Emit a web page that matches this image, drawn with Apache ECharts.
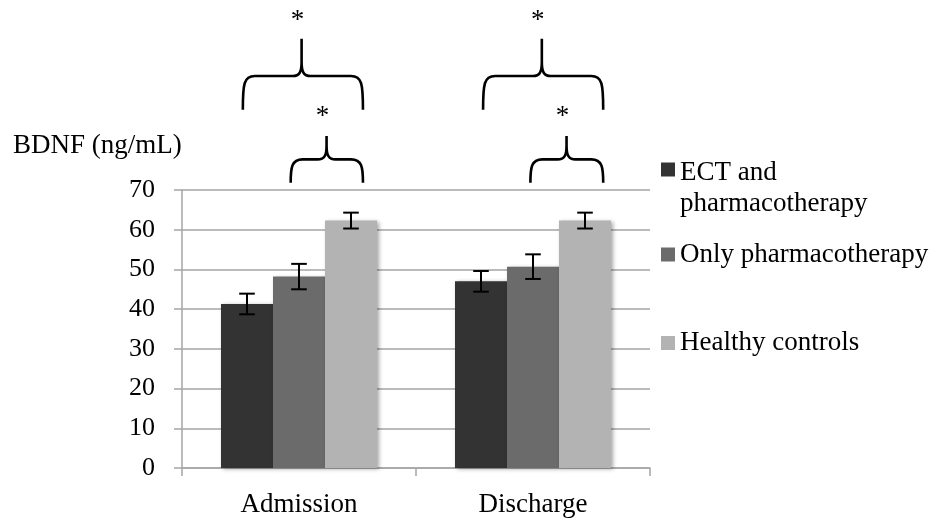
<!DOCTYPE html>
<html><head><meta charset="utf-8">
<script src="https://cdn.jsdelivr.net/npm/echarts@6/dist/echarts.min.js"></script>
<style>html,body{margin:0;padding:0;background:#fff}#c{width:947px;height:522px}</style>
</head><body><div id="c"></div>
<script>
// ---- data ----
const categories = ['Admission', 'Discharge'];
const seriesNames = ['ECT and pharmacotherapy', 'Only pharmacotherapy', 'Healthy controls'];
const ectMeans = [41.3, 47.0];
const ectErrors = [2.6, 2.6];
const onlyMeans = [48.2, 50.7];
const onlyErrors = [3.2, 3.1];
const healthyMeans = [62.3, 62.3];
const healthyErrors = [2.0, 2.0];
const yTickLabels = [0, 10, 20, 30, 40, 50, 60, 70];
const yAxisTitle = 'BDNF (ng/mL)';
// significance brackets: [category index, first bar index, last bar index, level]
const significance = [[0, 0, 2, 'outer'], [0, 1, 2, 'inner'], [1, 0, 2, 'outer'], [1, 1, 2, 'inner']];
const sigMark = '*';

// ---- styling / layout ----
const FONT = 'Liberation Serif';
const FS = 27;
const FS_NUM = 26;
const COLORS = ['#333333', '#6b6b6b', '#b3b3b3'];
const GRID = '#a5a5a5';
const CAT_GAP = 1 / 3;
// bracket geometry, in value units (y) and bar-width units (x offsets from bar centres)
const BRACKET_STYLE = {
  outer: {yEnd: 90.2, yMid: 98.7, yTop: 108.1, yStar: 113.7},
  inner: {yEnd: 71.8, yMid: 77.7, yTop: 83.6, yStar: 89.5}
};
const BRACKET_X = {
  '0-outer': [-0.08, 0.23, 0.05], '0-inner': [-0.16, 0.23, 0.53],
  '1-outer': [0.04, 0.35, 0.17], '1-inner': [-0.05, 0.35, 0.645]
};

const means = [ectMeans, onlyMeans, healthyMeans];
const errs = [ectErrors, onlyErrors, healthyErrors];

const errData = [];
means.forEach((m, s) => m.forEach((v, c) => errData.push([c, v, s, errs[s][c]])));

function barCenter(api, cat, s) {
  const band = api.size([1, 0])[0];
  const bw = band * (1 - CAT_GAP) / 3;
  const cx = api.coord([cat, 0])[0];
  return {x: cx + (s - 1) * bw, bw: bw};
}

const chart = echarts.init(document.getElementById('c'), null, {renderer: 'canvas'});

const barSeries = seriesNames.map((name, s) => ({
  name: name,
  type: 'bar',
  data: means[s],
  barGap: '0%',
  barCategoryGap: (CAT_GAP * 100) + '%',
  itemStyle: {color: COLORS[s], shadowBlur: 4, shadowColor: 'rgba(0,0,0,0.35)', shadowOffsetX: 2, shadowOffsetY: 1},
  emphasis: {disabled: true},
  z: 2
}));

const errorSeries = {
  type: 'custom',
  data: errData,
  encode: {x: 0, y: 1},
  z: 5,
  silent: true,
  renderItem: function (params, api) {
    const cat = api.value(0), v = api.value(1), s = api.value(2), e = api.value(3);
    const b = barCenter(api, cat, s);
    const yH = api.coord([cat, v + e])[1];
    const yL = api.coord([cat, v - e])[1];
    const half = 7.8;
    const st = {stroke: '#000', lineWidth: 2};
    return {type: 'group', children: [
      {type: 'line', shape: {x1: b.x, y1: yH, x2: b.x, y2: yL}, style: st},
      {type: 'line', shape: {x1: b.x - half, y1: yH, x2: b.x + half, y2: yH}, style: st},
      {type: 'line', shape: {x1: b.x - half, y1: yL, x2: b.x + half, y2: yL}, style: st}
    ]};
  }
};

const bracketSeries = {
  type: 'custom',
  data: significance.map(d => [d[0], 0]),
  encode: {x: 0, y: 1},
  clip: false,
  silent: true,
  z: 6,
  renderItem: function (params, api) {
    const d = significance[params.dataIndex];
    const cat = d[0], from = d[1], to = d[2], level = d[3];
    const g = BRACKET_STYLE[level];
    const off = BRACKET_X[cat + '-' + level];
    const bL = barCenter(api, cat, from), bR = barCenter(api, cat, to), bM = barCenter(api, cat, 1);
    const x0 = bL.x + off[0] * bL.bw;
    const x1 = bR.x + off[1] * bR.bw;
    const xp = bM.x + off[2] * bM.bw;
    const yB = api.coord([cat, g.yEnd])[1];
    const yM = api.coord([cat, g.yMid])[1];
    const yT = api.coord([cat, g.yTop])[1];
    const yS = api.coord([cat, g.yStar])[1];
    const p = 'M' + x0 + ',' + yB +
      ' C' + x0 + ',' + (yM + 8) + ' ' + (x0 + 1) + ',' + yM + ' ' + (x0 + 12) + ',' + yM +
      ' L' + (xp - 9) + ',' + yM +
      ' C' + (xp - 2) + ',' + yM + ' ' + xp + ',' + (yM - 4) + ' ' + xp + ',' + (yM - 14) +
      ' L' + xp + ',' + yT +
      ' M' + xp + ',' + (yM - 14) +
      ' C' + xp + ',' + (yM - 4) + ' ' + (xp + 2) + ',' + yM + ' ' + (xp + 9) + ',' + yM +
      ' L' + (x1 - 12) + ',' + yM +
      ' C' + (x1 - 1) + ',' + yM + ' ' + x1 + ',' + (yM + 8) + ' ' + x1 + ',' + yB;
    return {type: 'group', children: [
      {type: 'path', shape: {pathData: p}, style: {stroke: '#000', lineWidth: 2.6, fill: null}},
      {type: 'text', style: {text: sigMark, x: xp - 4, y: yS + 4, align: 'center', verticalAlign: 'middle',
        font: '27px "' + FONT + '"', fill: '#000'}}
    ]};
  }
};

const legendTops = [120, 239, 327.5];
const legendText = {fontFamily: FONT, fontSize: FS, color: '#000', lineHeight: 31};
const option = {
  backgroundColor: '#fff',
  animation: false,
  title: {text: yAxisTitle, left: 13, top: 130, padding: 0,
    textStyle: {fontFamily: FONT, fontSize: FS, fontWeight: 'normal', color: '#000', lineHeight: 31}},
  legend: seriesNames.map((n, i) => ({
    data: [n], orient: 'vertical', left: 661, top: legendTops[i], padding: 0,
    itemWidth: 14, itemHeight: 14, icon: 'rect', selectedMode: false,
    itemStyle: {shadowBlur: 0, shadowColor: 'transparent', shadowOffsetX: 0, shadowOffsetY: 0},
    formatter: i === 0 ? '{g| }\n{a|ECT and}\n{a|pharmacotherapy}' : '{name}',
    textStyle: Object.assign({}, legendText, {
      rich: {g: {fontSize: 10, lineHeight: 37}, a: legendText}
    })
  })),
  grid: {left: 182, right: 297, top: 190, bottom: 54, containLabel: false},
  xAxis: {
    type: 'category', data: categories,
    axisLine: {lineStyle: {color: GRID, width: 1.5}},
    axisTick: {show: true, length: 8, lineStyle: {color: GRID, width: 1.5}},
    axisLabel: {fontFamily: FONT, fontSize: FS, color: '#000', margin: 21, lineHeight: 31}
  },
  yAxis: {
    type: 'value', min: yTickLabels[0], max: yTickLabels[yTickLabels.length - 1], interval: yTickLabels[1] - yTickLabels[0],
    axisLine: {show: true, lineStyle: {color: GRID, width: 1.5}},
    axisTick: {show: true, length: 8, lineStyle: {color: GRID, width: 1.5}},
    splitLine: {show: true, lineStyle: {color: GRID, width: 1.5}},
    axisLabel: {fontFamily: FONT, fontSize: FS_NUM, color: '#000', margin: 27}
  },
  series: barSeries.concat([errorSeries, bracketSeries])
};
chart.setOption(option);
</script>
</body></html>
